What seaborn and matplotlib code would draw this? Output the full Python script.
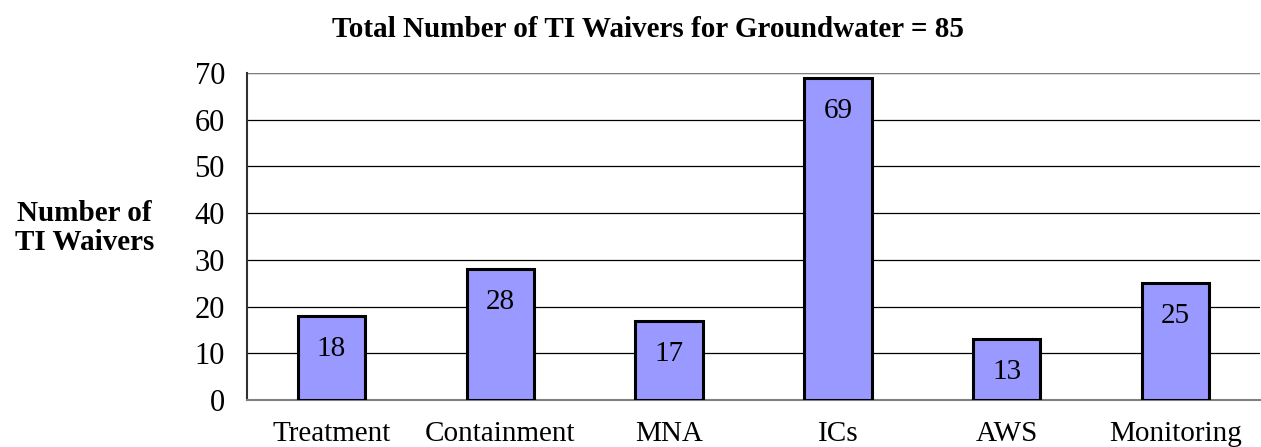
import matplotlib.pyplot as plt
import numpy as np
import pandas as pd
import seaborn as sns

categorias = ["Treatment", "Containment", "MNA", "ICs", "AWS", "Monitoring"]
valores = [18, 28, 17, 69, 13, 25]
titulo = "Total Number of TI Waivers for Groundwater = 85"
etiqueta_y = "Number of\nTI Waivers"

sns.set_style("white")
plt.rcParams['font.family'] = ['Liberation Serif', 'DejaVu Serif']
plt.rcParams['text.color'] = 'black'
plt.rcParams['xtick.color'] = 'black'
plt.rcParams['ytick.color'] = 'black'

df = pd.DataFrame({"categoria": categorias, "valor": valores})

fig = plt.figure(figsize=(12.61, 4.47), dpi=100)
ax = fig.add_axes([0.196, 0.105, 0.803, 0.732])

sns.barplot(x="categoria", y="valor", data=df, color="#9999FF", width=0.4,
            edgecolor="black", linewidth=2.2, saturation=1, ax=ax, zorder=3)

for cont in ax.containers:
    for barra in cont:
        ax.annotate(f"{barra.get_height():.0f}",
                    (barra.get_x() + barra.get_width() / 2, barra.get_height()),
                    xytext=(0, -33), textcoords="offset pixels",
                    ha="center", va="center", fontsize=21, zorder=4)

ax.set_xlim(-0.5, 5.5)
ax.set_ylim(0, 70)
ax.set_yticks(np.arange(0, 71, 10))
ax.yaxis.grid(True, color="black", linewidth=0.9, zorder=0)
ax.set_axisbelow(True)

# ticks del eje x en los limites entre categorias
ax.set_xticks(np.arange(-0.5, 6, 1), minor=True)
ax.tick_params(axis="x", which="major", length=0, pad=15, labelsize=21)
ax.tick_params(axis="x", which="minor", length=8, width=1, color="#808080", direction="out")
ax.tick_params(axis="y", length=7, width=1.2, color="#404040", labelcolor="black",
               direction="out", pad=9, labelsize=22)

for lado in ["top", "right"]:
    ax.spines[lado].set_visible(False)
ax.spines["left"].set_color("#303030")
ax.spines["bottom"].set_color("#808080")
ax.spines["left"].set_linewidth(1.5)
ax.spines["bottom"].set_linewidth(1.5)
ax.axhline(70, color="#808080", linewidth=1.5, zorder=1)

ax.set_xlabel("")
ax.set_ylabel("")
fig.text(0.514, 0.935, titulo, ha="center", va="center", fontsize=21, fontweight="bold")
fig.text(0.067, 0.49, etiqueta_y, ha="center", va="center", fontsize=21,
         fontweight="bold", linespacing=1.1)

fig.savefig("out.png", dpi=100)
